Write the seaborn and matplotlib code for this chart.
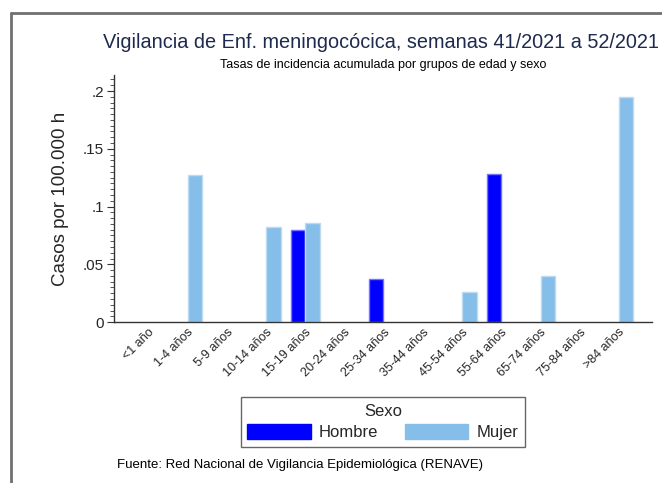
import matplotlib
matplotlib.use('Agg')

import matplotlib.pyplot as plt
from matplotlib.patches import Patch
from matplotlib.lines import Line2D
from matplotlib.ticker import MultipleLocator, FuncFormatter
import matplotlib.colors as mcolors
import numpy as np
import pandas as pd
import seaborn as sns

# Datos (tasas por 100.000 h)
edades = ['<1 año', '1-4 años', '5-9 años', '10-14 años', '15-19 años', '20-24 años',
          '25-34 años', '35-44 años', '45-54 años', '55-64 años', '65-74 años',
          '75-84 años', '>84 años']
hombre = [np.nan, np.nan, np.nan, np.nan, 0.080, np.nan, 0.037, np.nan, np.nan,
          0.128, np.nan, np.nan, np.nan]
mujer = [np.nan, 0.127, np.nan, 0.082, 0.086, np.nan, np.nan, np.nan, 0.026,
         np.nan, 0.040, np.nan, 0.195]
sexos = ['Hombre', 'Mujer']
colores = {'Hombre': '#0000FF', 'Mujer': '#85BEE9'}

df = pd.DataFrame({
    'Edad': edades * 2,
    'Sexo': ['Hombre'] * len(edades) + ['Mujer'] * len(edades),
    'Tasa': hombre + mujer,
})

sns.set_style('white')
plt.rcParams['font.family'] = ['Liberation Sans', 'DejaVu Sans']

fig = plt.figure(figsize=(6.62, 4.83), dpi=100)
ax = fig.add_axes([0.172, 0.333, 0.813, 0.512])

sns.barplot(data=df, x='Edad', y='Tasa', hue='Sexo', order=edades, hue_order=sexos,
            palette=colores, saturation=1, width=0.76, gap=0.04, errorbar=None,
            legend=False, ax=ax)

# borde claro de las barras
for p in ax.patches:
    fc = np.array(mcolors.to_rgb(p.get_facecolor()))
    p.set_edgecolor(tuple(fc + (1 - fc) * 0.45))
    p.set_linewidth(1.0)

ax.set_xlim(-0.88, 12.85)
ax.set_ylim(0, 0.214)
ax.yaxis.set_major_locator(MultipleLocator(0.05))
ax.yaxis.set_minor_locator(MultipleLocator(0.005))
ax.yaxis.set_major_formatter(FuncFormatter(lambda v, _: '0' if v == 0 else ('%g' % v).lstrip('0')))
ax.tick_params(axis='y', which='major', length=5, width=0.8, color='#333333', labelsize=11, pad=2, left=True)
ax.tick_params(axis='y', which='minor', length=3, width=0.7, color='#555555', left=True)
ax.tick_params(axis='x', length=0, labelsize=9, pad=3)
plt.setp(ax.get_xticklabels(), rotation=45, ha='right', rotation_mode='anchor')

sns.despine(ax=ax)
for s in ['left', 'bottom']:
    ax.spines[s].set_color('#333333')
    ax.spines[s].set_linewidth(1.0)

ax.set_xlabel('')
ax.set_ylabel('Casos por 100.000 h', fontsize=13.5, labelpad=10)

fig.text(103 / 662, 1 - 43 / 483, 'Vigilancia de Enf. meningocócica, semanas 41/2021 a 52/2021',
         fontsize=14.3, color='#1E2A4E', ha='left', va='center')
fig.text(383 / 662, 1 - 65 / 483, 'Tasas de incidencia acumulada por grupos de edad y sexo',
         fontsize=9, color='black', ha='center', va='center')
fig.text(117 / 662, 1 - 465 / 483, 'Fuente: Red Nacional de Vigilancia Epidemiológica (RENAVE)',
         fontsize=9.5, color='black', ha='left', va='center')

handles = [Patch(facecolor=colores[s], edgecolor=colores[s]) for s in sexos]
leg = fig.legend(handles, sexos, title='Sexo', ncol=2, loc='center',
                 bbox_to_anchor=(383 / 662, 1 - 422 / 483), fontsize=12, title_fontsize=12,
                 frameon=True, fancybox=False, edgecolor='#404040', handlelength=3.8,
                 handleheight=1.05, handletextpad=0.5, columnspacing=1.6,
                 borderpad=0.4, labelspacing=0.3)
leg.get_frame().set_linewidth(1.0)

# marco gris de la imagen
fig.add_artist(Line2D([11 / 662, 11 / 662], [0, 1 - 13 / 483], color='#707070', lw=2,
                      transform=fig.transFigure))
fig.add_artist(Line2D([11 / 662, 1], [1 - 13 / 483, 1 - 13 / 483], color='#707070', lw=2,
                      transform=fig.transFigure))

fig.savefig('out.png', dpi=100)
